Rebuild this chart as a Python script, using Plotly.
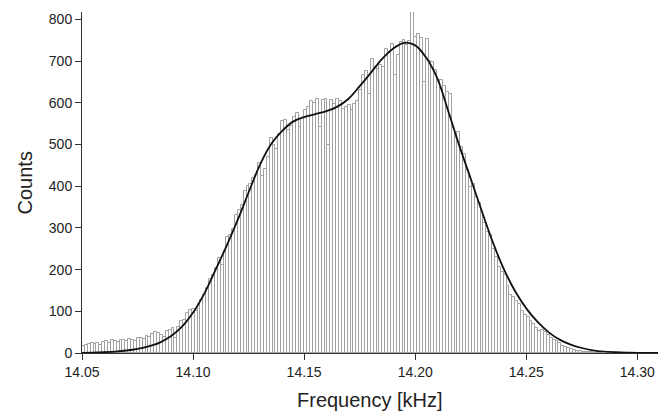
import numpy as np
import plotly.graph_objects as go

# histogram bins: start and width in kHz
bin_start = 14.05
bin_width = 0.0013

counts = [
    18, 20, 22, 24, 21, 23, 20, 26,
    28, 25, 30, 29, 27, 32, 30, 28, 33, 31, 29, 35,
    36, 34, 40, 38, 45, 50,
    47, 44, 38, 52, 55, 60, 35, 62, 76, 80, 95, 102, 106, 100,
    118, 128, 138, 155, 178, 186, 205, 228, 210, 245,
    278, 282, 298, 330, 342, 356, 388, 400, 405, 420,
    428, 455, 425, 442, 470, 516, 500, 490, 525, 556,
    560, 534, 545, 565, 575, 542, 563, 582, 590, 605,
    600, 610, 541, 608, 610, 498, 608, 598, 610, 604,
    586, 590, 594, 582, 598, 605, 630, 666, 677, 622,
    706, 685, 682, 690, 685, 730, 720, 742, 666, 714,
    745, 750, 740, 748, 817, 757, 765, 756, 650, 754,
    701, 697, 678, 654, 654, 640, 625, 622, 540, 515,
    530, 494, 478, 440, 398, 405, 375, 360, 338, 311,
    290, 283, 250, 231, 207, 195, 187, 160, 140, 135,
    125, 118, 100, 92, 87, 76, 70, 60, 52, 54,
    50, 42, 36, 31, 29, 24, 17, 14, 12, 10,
    7, 6, 4, 3, 3, 2, 2, 1, 1, 1,
]

# fitted curve
fit_freq = [14.050, 14.055, 14.060, 14.065, 14.070, 14.075, 14.080, 14.085,
            14.090, 14.095, 14.100, 14.105, 14.110, 14.115, 14.120, 14.125,
            14.130, 14.135, 14.140, 14.145, 14.150, 14.155, 14.160, 14.165,
            14.170, 14.175, 14.180, 14.185, 14.190, 14.195, 14.200, 14.205,
            14.210, 14.215, 14.220, 14.225, 14.230, 14.235, 14.240, 14.245,
            14.250, 14.255, 14.260, 14.265, 14.270, 14.275, 14.280, 14.285,
            14.290, 14.295, 14.300, 14.310]
fit_counts = [0.5, 1, 2, 3.5, 6, 10, 16, 25,
              40, 63, 97, 142, 198, 256, 318, 385,
              450, 500, 532, 555, 566, 573, 580, 591,
              610, 640, 672, 705, 730, 744, 738, 708,
              658, 578, 495, 418, 340, 265, 200, 148,
              107, 75, 50, 32, 20, 12, 6.5, 3.5,
              2, 1, 0.5, 0]

x_ticks = [14.05, 14.10, 14.15, 14.20, 14.25, 14.30]

centers = bin_start + bin_width * (np.arange(len(counts)) + 0.5)

fig = go.Figure()
fig.add_trace(go.Bar(
    x=centers, y=counts, width=bin_width,
    marker=dict(color='white', line=dict(color='#a0a0a0', width=1)),
    showlegend=False,
))
fig.add_trace(go.Scatter(
    x=fit_freq, y=fit_counts, mode='lines',
    line=dict(color='#111111', width=1.8, shape='spline'),
    showlegend=False,
))

# page body has an 8px margin, so the figure is 8px smaller than the window
font = 'Arial, Liberation Sans, sans-serif'
fig.update_layout(
    width=658, height=406,
    margin=dict(l=74, r=8, t=4, b=61),
    paper_bgcolor='white', plot_bgcolor='white',
    font=dict(family=font, size=14, color='#222222'),
    bargap=0,
    xaxis=dict(
        range=[14.05, 14.3093], tickvals=x_ticks,
        ticktext=[f'{v:.2f}' for v in x_ticks],
        showline=True, linecolor='#333333', linewidth=1,
        ticks='outside', ticklen=6, tickcolor='#333333',
        showgrid=False, zeroline=False, automargin=False,
    ),
    yaxis=dict(
        range=[0, 818], dtick=100,
        showline=True, linecolor='#333333', linewidth=1,
        ticks='outside', ticklen=6, tickcolor='#333333',
        showgrid=False, zeroline=False, automargin=False,
    ),
    annotations=[
        dict(text='Counts', xref='paper', yref='paper', x=-0.099, y=0.5,
             textangle=-90, showarrow=False, font=dict(size=20),
             xanchor='center', yanchor='middle'),
        dict(text='Frequency [kHz]', xref='paper', yref='paper', x=0.5, y=-0.138,
             showarrow=False, font=dict(size=20),
             xanchor='center', yanchor='middle'),
    ],
)

fig.write_html("out.html")
